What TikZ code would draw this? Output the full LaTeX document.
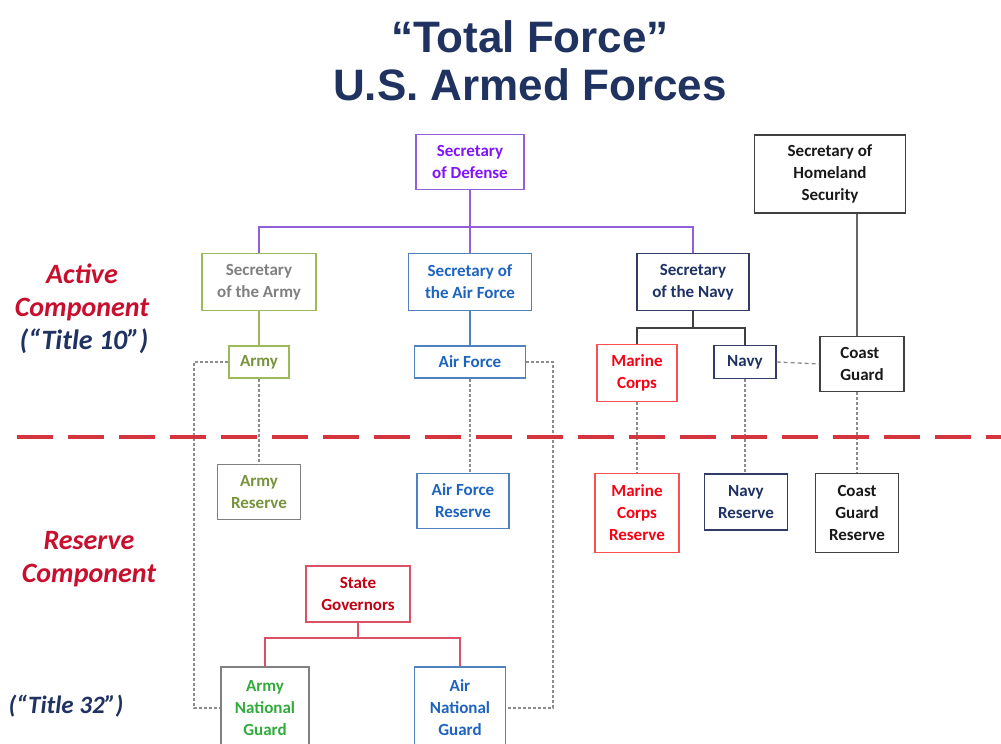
\documentclass[tikz,border=0pt]{standalone}
\usepackage{fontspec}
\setmainfont{Carlito}
\newfontfamily\titlefont{Liberation Sans}
\definecolor{titlenavy}{RGB}{31,50,96}
\definecolor{labelred}{RGB}{200,16,46}
\definecolor{divred}{RGB}{212,52,62}
\definecolor{sdtext}{RGB}{128,20,250}
\definecolor{sdline}{RGB}{145,95,215}
\definecolor{armyline}{RGB}{155,187,89}
\definecolor{armygray}{RGB}{128,128,128}
\definecolor{armygreen}{RGB}{119,147,60}
\definecolor{nggreen}{RGB}{50,170,60}
\definecolor{afline}{RGB}{79,129,189}
\definecolor{aftext}{RGB}{30,100,190}
\definecolor{navyline}{RGB}{50,60,100}
\definecolor{navytext}{RGB}{31,50,100}
\definecolor{mcline}{RGB}{255,80,80}
\definecolor{mctext}{RGB}{250,0,20}
\definecolor{cgline}{RGB}{64,64,64}
\definecolor{cgtext}{RGB}{25,25,25}
\definecolor{govline}{RGB}{220,80,100}
\definecolor{govtext}{RGB}{192,0,20}
\definecolor{linkgray}{RGB}{140,140,140}
\tikzset{
  orgbox/.style={draw, line width=1.4pt, fill=white, align=center, inner sep=0pt,
    font=\bfseries\fontsize{17}{22}\selectfont},
  sidelabel/.style={align=center, font=\bfseries\itshape\fontsize{28}{33}\selectfont},
  heading/.style={align=center, text=titlenavy, font=\titlefont\bfseries\fontsize{44}{48}\selectfont},
  tree/.style={line width=1.4pt},
  reservelink/.style={line width=1.3pt, linkgray, dash pattern=on 3pt off 2pt},
  sidelink/.style={line width=1.3pt, linkgray, dash pattern=on 4pt off 3pt},
}
\begin{document}
\begin{tikzpicture}[x=1pt,y=-1pt]
\useasboundingbox (0,0) rectangle (1001,744);
\clip (0,0) rectangle (1001,744);
\fill[white] (0,0) rectangle (1001,744);

% heading
\node[heading] (title) at (530,61) {“Total Force”\\U.S. Armed Forces};

% side labels
\node[sidelabel, text=labelred] (active) at (82,292) {Active\\Component};
\node[sidelabel, text=titlenavy] (t10) at (84,341) {(“Title 10”)};
\node[sidelabel, text=labelred] (reserve) at (89,559) {Reserve\\Component};
\node[sidelabel, text=titlenavy, font=\bfseries\itshape\fontsize{25}{30}\selectfont] (t32) at (66,706) {(“Title 32”)};

% divider between active and reserve components
\coordinate (divL) at (17,437);
\coordinate (divR) at (1001,437);

% secretaries
\node[orgbox, draw=sdline, text=sdtext, minimum width=108pt, minimum height=55pt] (sd) at (470,162) {Secretary\\of Defense};
\node[orgbox, draw=cgline, text=cgtext, minimum width=151pt, minimum height=78pt] (hs) at (830,174) {Secretary of\\Homeland\\Security};
\node[orgbox, draw=armyline, text=armygray, minimum width=114pt, minimum height=57pt] (sa) at (259,282) {Secretary\\of the Army};
\node[orgbox, draw=afline, text=aftext, minimum width=123pt, minimum height=57pt] (saf) at (470,282) {Secretary of\\the Air Force};
\node[orgbox, draw=navyline, text=navytext, minimum width=112pt, minimum height=57pt] (sn) at (693,282) {Secretary\\of the Navy};

% active services
\node[orgbox, draw=armyline, text=armygreen, minimum width=60pt, minimum height=32pt] (ar) at (259,362) {Army};
\node[orgbox, draw=afline, text=aftext, minimum width=111pt, minimum height=32pt] (af) at (470,362) {Air Force};
\node[orgbox, draw=mcline, text=mctext, minimum width=80pt, minimum height=57pt] (mc) at (637,373) {Marine\\Corps};
\node[orgbox, draw=navyline, text=navytext, minimum width=62pt, minimum height=33pt] (nv) at (745,362) {Navy};
\node[orgbox, draw=cgline, text=cgtext, minimum width=84pt, minimum height=55pt, align=left] (cg) at (862,364) {Coast\\Guard};

% reserves
\node[orgbox, draw=armygray, text=armygreen, minimum width=83pt, minimum height=55pt] (arr) at (259,492) {Army\\Reserve};
\node[orgbox, draw=afline, text=aftext, minimum width=92pt, minimum height=55pt] (afr) at (463,501) {Air Force\\Reserve};
\node[orgbox, draw=mcline, text=mctext, minimum width=84pt, minimum height=79pt] (mcr) at (637,513) {Marine\\Corps\\Reserve};
\node[orgbox, draw=navyline, text=navytext, minimum width=83pt, minimum height=56pt] (nr) at (746,502) {Navy\\Reserve};
\node[orgbox, draw=cgline, text=cgtext, minimum width=83pt, minimum height=79pt] (cgr) at (857,513) {Coast\\Guard\\Reserve};

% national guard
\node[orgbox, draw=govline, text=govtext, minimum width=104pt, minimum height=56pt] (sg) at (358,594) {State\\Governors};
\node[orgbox, draw=armygray, text=nggreen, minimum width=88pt, minimum height=82pt] (ang) at (265,708) {Army\\National\\Guard};
\node[orgbox, draw=afline, text=aftext, minimum width=91pt, minimum height=82pt] (ang2) at (460,708) {Air\\National\\Guard};

% bus points and rails
\coordinate (defbus) at (470,227);
\coordinate (navbus) at (693,328);
\coordinate (govbus) at (358,638);
\coordinate (armyrail) at (194,0);
\coordinate (afrail) at (553,0);

% Department of Defense chain
\draw[tree, sdline] (sd.south) -- (defbus);
\draw[tree, sdline] (sa.north) |- (defbus) -| (sn.north);
\draw[tree, sdline] (defbus) -- (saf.north);
\draw[tree, armyline] (sa.south) -- (ar.north);
\draw[tree, afline] (saf.south) -- (af.north);
\draw[tree, cgline] (sn.south) -- (navbus);
\draw[tree, cgline] (mc.north) |- (navbus) -| (nv.north);

% Homeland Security chain
\draw[tree, cgline!80] (hs.south -| cgr.north) -- (cg.north -| cgr.north);

% State chain
\draw[tree, govline] (sg.south) -- (govbus);
\draw[tree, govline] (ang.north) |- (govbus) -| (ang2.north);

% links to reserves
\draw[reservelink] (ar.south) -- (arr.north);
\draw[reservelink] (af.south) -- (af.south |- afr.north);
\draw[reservelink] (mc.south) -- (mcr.north);
\draw[reservelink] (nv.south) -- (nv.south |- nr.north);
\draw[reservelink] (cg.south -| cgr.north) -- (cgr.north);
\draw[sidelink] (nv.east) -- (cg.west);
\draw[reservelink] (ar.west) -| (armyrail |- ang.west) -- (ang.west);
\draw[reservelink] (af.east) -| (afrail |- ang2.east) -- (ang2.east);

% component divider
\draw[divred, line width=4.5pt, dash pattern=on 36pt off 15pt] (divL) -- (divR);
\end{tikzpicture}
\end{document}
